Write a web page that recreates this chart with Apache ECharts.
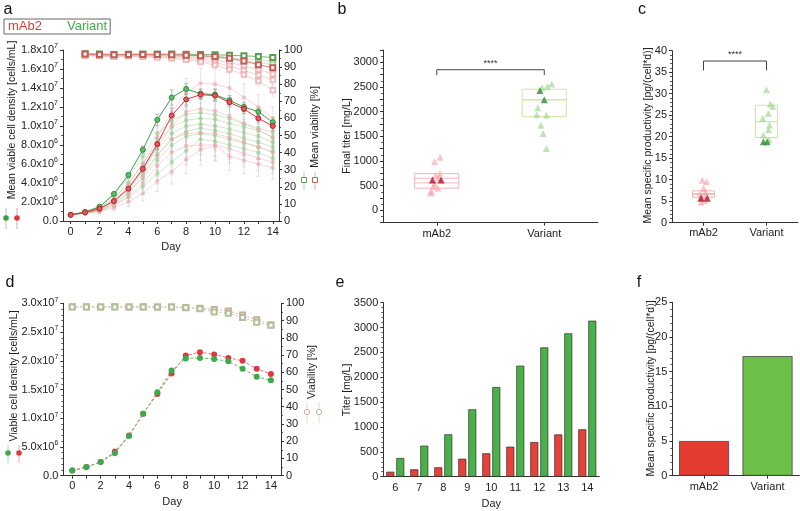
<!DOCTYPE html>
<html><head><meta charset="utf-8">
<script src="https://cdn.jsdelivr.net/npm/echarts@6/dist/echarts.min.js"></script>
<style>html,body{margin:0;padding:0;background:#fff}#c{width:800px;height:511px}</style>
</head><body><div id="c"></div>
<script>
// ---------- data ----------
const days = [0,1,2,3,4,5,6,7,8,9,10,11,12,13,14];
const evenDays = [0,2,4,6,8,10,12,14];
const viaDays = [1,2,3,4,5,6,7,8,9,10,11,12,13,14];
// panel a: viable cell density (millions cells/mL)
const vcdVarMean = [0.65,0.95,1.5,2.85,4.85,7.5,10.65,13.0,13.9,13.4,13.3,12.7,12.0,11.5,10.4];
const vcdMabMean = [0.65,0.9,1.3,2.1,3.4,5.5,8.1,11.1,12.8,13.3,13.2,12.5,11.8,10.8,10.0];
const vcdMeanSd  = [0.05,0.05,0.1,0.15,0.2,0.4,0.6,0.8,0.6,0.5,0.6,0.5,0.5,0.4,0.5];
const vcdVarF1 = [0.65,0.95,1.5,2.7,4.6,6.8,9.2,10.6,11.2,11.4,11.2,10.8,10.2,9.8,9.3];
const vcdVarF2 = [0.65,0.9,1.4,2.4,4.0,6.0,8.3,9.9,10.6,10.8,10.7,10.3,9.9,9.5,8.8];
const vcdVarF3 = [0.65,0.9,1.3,2.2,3.6,5.5,7.6,9.2,10.0,10.2,10.0,9.7,9.3,8.9,8.3];
const vcdVarF4 = [0.65,0.85,1.2,2.0,3.3,5.0,7.0,8.6,9.4,9.8,9.5,9.2,8.7,8.3,7.8];
const vcdVarF5 = [0.65,0.85,1.1,1.8,2.9,4.5,6.4,8.0,8.9,9.2,9.0,8.6,8.2,7.8,7.3];
const vcdVarF6 = [0.65,0.8,1.0,1.6,2.5,3.6,5.0,6.2,7.4,8.6,8.4,8.0,7.6,7.2,6.6];
const vcdMabF1 = [0.65,0.95,1.4,2.4,3.9,6.0,8.8,11.5,13.5,14.5,14.4,14.0,13.0,12.0,10.8];
const vcdMabF2 = [0.65,0.9,1.3,2.1,3.4,5.3,7.8,10.0,11.5,11.8,11.6,11.0,10.3,9.6,8.8];
const vcdMabF3 = [0.65,0.85,1.2,1.9,3.0,4.7,6.9,8.6,9.2,9.3,9.2,8.8,8.3,7.8,7.2];
const vcdMabF4 = [0.65,0.85,1.1,1.7,2.6,4.0,5.8,7.2,7.9,8.0,8.0,7.6,7.1,6.6,6.2];
const vcdMabF5 = [0.6,0.8,1.0,1.4,2.0,2.9,4.2,5.2,6.5,7.5,7.9,6.8,6.4,6.0,5.6];
const vcdFaintSd = [0.05,0.1,0.15,0.3,0.5,0.8,1.1,1.3,1.5,1.6,1.6,1.5,1.4,1.3,1.2];
// panel a: viability (%), days 1..14
const viaVarMean = [97.8,97.6,97.4,97.5,97.6,97.6,97.6,97.5,97.4,97.2,96.9,96.6,96.2,95.6];
const viaMabMean = [97.6,97.4,97.2,97.4,97.4,97.3,97.2,97.0,96.6,96.2,95.2,93.6,91.4,89.6];
const viaVarF1 = [97.4,97.2,97.0,97.2,97.3,97.2,97.1,96.9,96.6,96.2,95.6,95.0,94.0,93.2];
const viaVarF2 = [97.0,96.8,96.6,96.8,96.9,96.7,96.5,96.2,95.8,95.3,94.5,93.6,92.5,91.5];
const viaMabF1 = [97.2,97.0,96.8,97.0,96.9,96.7,96.4,96.0,95.2,94.2,92.6,90.8,88.6,86.0];
const viaMabF2 = [96.9,96.6,96.4,96.6,96.4,96.1,95.7,95.1,94.1,92.6,90.6,88.0,85.4,82.4];
const viaMabF3 = [96.6,96.3,96.0,96.2,96.0,95.6,95.1,94.3,93.0,91.2,88.6,85.6,81.8,76.5];
const viaSd = [0.3,0.3,0.3,0.3,0.3,0.4,0.5,0.6,0.8,1.0,1.5,2.0,2.8,3.5];
// panel b: final titer (mg/L)
const groups = ['mAb2','Variant'];
const titerMab = [1074,986,752,710,660,551,483,450,382,350];
const titerMabJit = [0.03,-0.02,0.03,-0.01,0.02,-0.02,-0.03,0.01,-0.05,-0.06];
const titerMabDark = [617,617];
const titerMabDarkJit = [-0.04,0.04];
const titerVar = [2563,2509,2483,2080,1940,1926,1724,1557,1255];
const titerVarJit = [0.07,0.03,-0.02,-0.06,-0.07,0.02,-0.03,-0.01,0.02];
const titerVarDark = [2429,2241];
const titerVarDarkJit = [-0.04,0.0];
const titerBox = [[450,557,652,744],[1900,2241,2241,2455]]; // q1, median, mean, q3
const titerTickLabels = [0,500,1000,1500,2000,2500,3000];
const titerSig = [2850,2740];
// panel c: mean specific productivity
const qpMab = [9.9,9.5,8.0,7.2,6.7,6.3,5.9,5.1,4.8];
const qpMabJit = [-0.02,0.05,0.0,0.03,-0.05,0.04,-0.03,0.02,-0.04];
const qpMabDark = [5.7,5.7];
const qpMabDarkJit = [-0.04,0.06];
const qpVar = [30.9,27.6,27.0,25.4,24.3,22.7,21.6,20.4,19.3];
const qpVarJit = [0.0,0.06,0.1,0.03,-0.06,0.05,0.03,-0.05,0.04];
const qpVarDark = [18.8,18.8];
const qpVarDarkJit = [-0.05,0.01];
const qpBox = [[5.9,6.5,6.8,7.4],[19.8,23.5,23.5,27.3]];
const qpSig = [37.6,35.4];
// panel d
const vcdDMab = [0.9,1.5,2.4,4.2,7.0,10.8,14.2,17.8,20.9,21.5,21.1,20.5,20.0,18.6,17.7];
const vcdDVar = [0.9,1.5,2.4,3.9,6.9,10.8,14.5,18.3,20.4,20.5,20.3,19.9,18.6,17.2,16.6];
const viaDMab = [98.0,98.0,97.9,98.0,97.9,98.0,97.9,97.9,97.6,97.2,96.4,95.5,93.2,90.5,87.6];
const viaDVar = [97.9,97.9,97.8,97.9,97.8,97.9,97.8,97.8,97.4,96.9,95.0,94.2,91.8,89.0,87.3];
// panel e
const titerDays = ['6','7','8','9','10','11','12','13','14'];
const titerDayMab = [100,148,189,362,470,604,698,850,953];
const titerDayVar = [376,624,853,1355,1804,2233,2602,2884,3138];
// panel f
const qpPooled = [5.0,17.25];

// ---------- style ----------
const FF = 'Liberation Sans, Arial, sans-serif';
const TXT = '#222', AX = '#333';
const RED = '#d9363e', GREEN = '#3a9f4a';
const plain = v => String(v);
function ax(o){
  const base = {
    axisLine:{show:true,onZero:false,lineStyle:{color:AX,width:1}},
    axisTick:{show:true,inside:false,length:3,lineStyle:{color:AX,width:1}},
    minorTick:{show:false,length:2,lineStyle:{color:AX,width:0.8}},
    axisLabel:{color:TXT,fontSize:11,fontFamily:FF,margin:5,formatter:plain},
    splitLine:{show:false},
    nameTextStyle:{color:TXT,fontSize:11,fontFamily:FF}
  };
  for (const k in o){
    if (base[k] && typeof base[k]==='object' && o[k] && typeof o[k]==='object' && !Array.isArray(o[k])) base[k] = Object.assign({}, base[k], o[k]);
    else base[k] = o[k];
  }
  return base;
}
const sci = v => {
  if (v === 0) return '{n|0.0}';
  const val = v*1e6; const e = Math.floor(Math.log10(val)+1e-9);
  return '{n|'+(val/Math.pow(10,e)).toFixed(1)+'x10}{s|'+e+'}';
};
const sciRich = {n:{fontSize:11,color:TXT,fontFamily:FF},s:{fontSize:7,color:TXT,fontFamily:FF,padding:[0,0,7,0]}};

function errItem(color){
  return (params, api) => {
    const x = api.value(0), lo = api.value(1), hi = api.value(2);
    const a = api.coord([x,lo]), b = api.coord([x,hi]);
    const st = {stroke:color,lineWidth:0.8};
    return {type:'group',children:[
      {type:'line',shape:{x1:a[0],y1:a[1],x2:b[0],y2:b[1]},style:st},
      {type:'line',shape:{x1:a[0]-2,y1:a[1],x2:a[0]+2,y2:a[1]},style:st},
      {type:'line',shape:{x1:b[0]-2,y1:b[1],x2:b[0]+2,y2:b[1]},style:st}]};
  };
}
function boxItem(colors, ratio){
  return (params, api) => {
    const i = api.value(0);
    const q1 = api.coord([i, api.value(1)]), md = api.coord([i, api.value(2)]);
    const mn = api.coord([i, api.value(3)]), q3 = api.coord([i, api.value(4)]);
    const w = api.size([ratio,0])[0];
    const st = {stroke:colors[params.dataIndex],lineWidth:1,fill:null};
    return {type:'group',children:[
      {type:'rect',shape:{x:q3[0]-w/2,y:q3[1],width:w,height:q1[1]-q3[1]},style:{stroke:colors[params.dataIndex],lineWidth:1,fill:'rgba(0,0,0,0)'}},
      {type:'line',shape:{x1:q3[0]-w/2,y1:md[1],x2:q3[0]+w/2,y2:md[1]},style:st},
      {type:'line',shape:{x1:q3[0]-w/2,y1:mn[1],x2:q3[0]+w/2,y2:mn[1]},style:st}]};
  };
}
function sigItem(params, api){
  const top = api.value(2), bot = api.value(3);
  const a0 = api.coord([api.value(0), bot]), a1 = api.coord([api.value(0), top]);
  const b1 = api.coord([api.value(1), top]), b0 = api.coord([api.value(1), bot]);
  return {type:'group',children:[
    {type:'polyline',shape:{points:[a0,a1,b1,b0]},style:{stroke:'#444',lineWidth:1,fill:null}},
    {type:'text',x:(a1[0]+b1[0])/2,y:a1[1]-2,style:{text:'****',fontSize:9,fontFamily:FF,fill:'#333',align:'center',verticalAlign:'bottom'}}]};
}

const series = [];
const pair = (xs, ys) => xs.map((x,i)=>[x, ys[i]]);
const errData = (xs, ys, sd) => xs.map((x,i)=>[x, ys[i]-sd[i], ys[i]+sd[i]]);

// ---- panel a ----
const faintG = [vcdVarF1,vcdVarF2,vcdVarF3,vcdVarF4,vcdVarF5,vcdVarF6];
const faintR = [vcdMabF1,vcdMabF2,vcdMabF3,vcdMabF4,vcdMabF5];
let errRows = [];
faintG.concat(faintR).forEach(a => { errRows = errRows.concat(errData(days, a, vcdFaintSd)); });
series.push({type:'custom',xAxisIndex:0,yAxisIndex:0,renderItem:errItem('rgba(190,190,190,0.5)'),data:errRows,silent:true,z:1});
let viaErr = [];
[viaMabF1,viaMabF2,viaMabF3].forEach(a => { viaErr = viaErr.concat(errData(viaDays, a, viaSd)); });
series.push({type:'custom',xAxisIndex:0,yAxisIndex:1,renderItem:errItem('rgba(200,200,200,0.5)'),data:viaErr,silent:true,z:1});
faintG.forEach(a => series.push({type:'line',xAxisIndex:0,yAxisIndex:0,data:pair(days,a),symbol:'circle',symbolSize:4.5,
  lineStyle:{color:'rgba(140,200,130,0.4)',width:1},itemStyle:{color:'rgba(150,205,140,0.55)'},silent:true,z:2}));
faintR.forEach(a => series.push({type:'line',xAxisIndex:0,yAxisIndex:0,data:pair(days,a),symbol:'circle',symbolSize:4.5,
  lineStyle:{color:'rgba(240,150,160,0.4)',width:1},itemStyle:{color:'rgba(240,165,170,0.55)'},silent:true,z:2}));
[viaVarF1,viaVarF2].forEach(a => series.push({type:'line',xAxisIndex:0,yAxisIndex:1,data:pair(viaDays,a),symbol:'emptyRect',symbolSize:4.5,
  lineStyle:{color:'rgba(150,200,130,0.45)',width:1},itemStyle:{color:'rgba(140,190,120,0.6)'},silent:true,z:2}));
[viaMabF1,viaMabF2,viaMabF3].forEach(a => series.push({type:'line',xAxisIndex:0,yAxisIndex:1,data:pair(viaDays,a),symbol:'emptyRect',symbolSize:4.5,
  lineStyle:{color:'rgba(235,160,160,0.45)',width:1},itemStyle:{color:'rgba(230,150,150,0.6)'},silent:true,z:2}));
series.push({type:'custom',xAxisIndex:0,yAxisIndex:0,renderItem:errItem('#aaa'),data:errData(days,vcdVarMean,vcdMeanSd).concat(errData(days,vcdMabMean,vcdMeanSd)),silent:true,z:3});
series.push({type:'line',name:'Variant',xAxisIndex:0,yAxisIndex:1,data:pair(viaDays,viaVarMean),symbol:'emptyRect',symbolSize:5,
  lineStyle:{color:'#7bb56e',width:1},itemStyle:{color:'#5a9e50'},z:4});
series.push({type:'line',name:'mAb2',xAxisIndex:0,yAxisIndex:1,data:pair(viaDays,viaMabMean),symbol:'emptyRect',symbolSize:5,
  lineStyle:{color:'#d98080',width:1},itemStyle:{color:'#c85a5a'},z:4});
series.push({type:'line',name:'Variant',xAxisIndex:0,yAxisIndex:0,data:pair(days,vcdVarMean),symbol:'circle',symbolSize:5,
  lineStyle:{color:GREEN,width:1},itemStyle:{color:'#62bd66',borderColor:'#2d8a3c',borderWidth:1},z:5});
series.push({type:'line',name:'mAb2',xAxisIndex:0,yAxisIndex:0,data:pair(days,vcdMabMean),symbol:'circle',symbolSize:5,
  lineStyle:{color:RED,width:1},itemStyle:{color:'#e5575c',borderColor:'#b3222b',borderWidth:1},z:5});

// ---- panel b / c ----
function dotPanel(xi, yi, box, ratio, mab, mabJ, mabD, mabDJ, vr, vrJ, vrD, vrDJ, sig){
  series.push({type:'custom',xAxisIndex:xi,yAxisIndex:yi,renderItem:boxItem(['#f2b4b8','#d2e2a8'],ratio),
    data:box.map((b,i)=>[i,b[0],b[1],b[2],b[3]]),silent:true,z:2});
  series.push({type:'scatter',xAxisIndex:xi,yAxisIndex:yi,symbol:'triangle',symbolSize:7,
    data:mab.map((v,i)=>[0+mabJ[i],v]),itemStyle:{color:'rgba(244,160,165,0.75)'},z:3});
  series.push({type:'scatter',xAxisIndex:xi,yAxisIndex:yi,symbol:'triangle',symbolSize:7,
    data:vr.map((v,i)=>[1+vrJ[i],v]),itemStyle:{color:'rgba(160,212,140,0.8)'},z:3});
  series.push({type:'scatter',xAxisIndex:xi,yAxisIndex:yi,symbol:'triangle',symbolSize:7,
    data:mabD.map((v,i)=>[0+mabDJ[i],v]),itemStyle:{color:'#a8152c'},z:4});
  series.push({type:'scatter',xAxisIndex:xi,yAxisIndex:yi,symbol:'triangle',symbolSize:7,
    data:vrD.map((v,i)=>[1+vrDJ[i],v]),itemStyle:{color:'#2f8f35'},z:4});
  series.push({type:'custom',xAxisIndex:xi,yAxisIndex:yi,renderItem:sigItem,data:[[0,1,sig[0],sig[1]]],silent:true,z:3});
}
dotPanel(2,2,titerBox,0.41,titerMab,titerMabJit,titerMabDark,titerMabDarkJit,titerVar,titerVarJit,titerVarDark,titerVarDarkJit,titerSig);
dotPanel(4,3,qpBox,0.35,qpMab,qpMabJit,qpMabDark,qpMabDarkJit,qpVar,qpVarJit,qpVarDark,qpVarDarkJit,qpSig);

// ---- panel d ----
series.push({type:'line',xAxisIndex:5,yAxisIndex:5,data:pair(days,viaDMab),symbol:'emptyRect',symbolSize:5,
  lineStyle:{color:'#d8b8a0',width:1,type:[2,2]},itemStyle:{color:'#c9ad98'},z:2});
series.push({type:'line',xAxisIndex:5,yAxisIndex:5,data:pair(days,viaDVar),symbol:'emptyRect',symbolSize:5,
  lineStyle:{color:'#bcc8a8',width:1,type:[2,2]},itemStyle:{color:'#b2bf9c'},z:2});
series.push({type:'line',xAxisIndex:5,yAxisIndex:4,data:pair(days,vcdDMab),symbol:'circle',symbolSize:6,
  lineStyle:{color:'#e07070',width:1,type:[3,2]},itemStyle:{color:'#dd3a40'},z:3});
series.push({type:'line',xAxisIndex:5,yAxisIndex:4,data:pair(days,vcdDVar),symbol:'circle',symbolSize:6,
  lineStyle:{color:'#6cb86c',width:1,type:[3,2]},itemStyle:{color:'#3da94a'},z:4});

// ---- panel e ----
series.push({type:'bar',xAxisIndex:6,yAxisIndex:6,data:titerDayMab,barWidth:8,barGap:'25%',
  itemStyle:{color:'#e8403a',borderColor:'#3a2a2a',borderWidth:0.7}});
series.push({type:'bar',xAxisIndex:6,yAxisIndex:6,data:titerDayVar,barWidth:8,barGap:'25%',
  itemStyle:{color:'#4cb04a',borderColor:'#2a3a2a',borderWidth:0.7}});
// ---- panel f ----
series.push({type:'bar',xAxisIndex:7,yAxisIndex:7,barWidth:50,
  data:[{value:qpPooled[0],itemStyle:{color:'#e53a2f'}},{value:qpPooled[1],itemStyle:{color:'#6cbf48'}}],
  itemStyle:{borderColor:'#444',borderWidth:0.8}});

// ---------- axes ----------
const grid = [
  {left:63,top:50,width:216,height:171},
  {left:383,top:50,width:215,height:172.7},
  {left:672,top:50.7,width:126,height:172},
  {left:63.3,top:303.3,width:217.7,height:172.4},
  {left:383.3,top:302.7,width:216,height:174},
  {left:672.3,top:302.3,width:127,height:173.4}
];
const xAxis = [
  ax({gridIndex:0,type:'value',min:-0.53,max:14.43,name:'Day',nameLocation:'middle',nameGap:20,
      axisLabel:{customValues:evenDays},axisTick:{customValues:days}}),
  ax({gridIndex:1,type:'category',data:groups,axisTick:{alignWithLabel:true},axisLabel:{margin:6}}),
  {gridIndex:1,type:'value',min:-0.5,max:1.5,show:false},
  ax({gridIndex:2,type:'category',data:groups,axisTick:{alignWithLabel:true},axisLabel:{margin:5}}),
  {gridIndex:2,type:'value',min:-0.5,max:1.5,show:false},
  ax({gridIndex:3,type:'value',min:-0.63,max:14.71,name:'Day',nameLocation:'middle',nameGap:21,
      axisLabel:{customValues:evenDays},axisTick:{customValues:days}}),
  ax({gridIndex:4,type:'category',data:titerDays,name:'Day',nameLocation:'middle',nameGap:22,axisTick:{show:false},axisLabel:{margin:6}}),
  ax({gridIndex:5,type:'category',data:groups,axisTick:{alignWithLabel:true},axisLabel:{margin:6}})
];
const yAxis = [
  ax({gridIndex:0,type:'value',min:0,max:18,interval:2,axisLabel:{formatter:sci,rich:sciRich},minorTick:{show:true,splitNumber:2}}),
  ax({gridIndex:0,type:'value',position:'right',min:0,max:100,interval:10,minorTick:{show:true,splitNumber:2}}),
  ax({gridIndex:1,type:'value',min:-250,max:3250,interval:250,axisLabel:{customValues:titerTickLabels},minorTick:{show:true,splitNumber:2}}),
  ax({gridIndex:2,type:'value',min:0,max:40,interval:5,minorTick:{show:true,splitNumber:5}}),
  ax({gridIndex:3,type:'value',min:0,max:30,interval:5,axisLabel:{formatter:sci,rich:sciRich},minorTick:{show:true,splitNumber:5}}),
  ax({gridIndex:3,type:'value',position:'right',min:0,max:100,interval:10,minorTick:{show:true,splitNumber:2}}),
  ax({gridIndex:4,type:'value',min:0,max:3500,interval:500,minorTick:{show:true,splitNumber:5}}),
  ax({gridIndex:5,type:'value',min:0,max:25,interval:5,minorTick:{show:true,splitNumber:5}})
];

// ---------- decorations ----------
const rtxt = (t,x,y) => ({type:'text',x:x,y:y,rotation:Math.PI/2,style:{text:t,align:'center',verticalAlign:'middle',fontSize:10.5,fontFamily:FF,fill:TXT}});
const letter = (t,x,y) => ({type:'text',x:x,y:y,style:{text:t,align:'center',verticalAlign:'middle',fontSize:16,fontFamily:FF,fill:'#111'}});
const glyph = (x,y,sym,color,y1,y2) => [
  {type:'line',shape:{x1:x,y1:y1,x2:x,y2:y2},style:{stroke:color,lineWidth:0.8,opacity:0.6}},
  sym==='c' ? {type:'circle',shape:{cx:x,cy:y,r:2.8},style:{fill:color}} :
  sym==='oc' ? {type:'circle',shape:{cx:x,cy:y,r:2.6},style:{fill:'#fff',stroke:color,lineWidth:1}} :
  {type:'rect',shape:{x:x-2.5,y:y-2.5,width:5,height:5},style:{fill:'#fff',stroke:color,lineWidth:1}}
];
const graphic = [
  letter('a',8,10), letter('b',342,10), letter('c',642,10), letter('d',10,283), letter('e',340,283), letter('f',639,283),
  rtxt('Mean viable cell density [cells/mL]',12,120),
  rtxt('Mean viability [%]',315,127),
  rtxt('Final titer [mg/L]',347,136),
  rtxt('Mean specific productivity [pg/(cell*d)]',648.5,135.5),
  rtxt('Viable cell density [cells/mL]',14,376),
  rtxt('Viability [%]',312,372),
  rtxt('Titer [mg/L]',347,390),
  rtxt('Mean specific productivity [pg/(cell*d)]',651,388.5),
  ...glyph(6,218,'c','#3c9e47',208,229), ...glyph(17,218,'c','#d9363e',208,229),
  ...glyph(304,180,'r','#5a9e50',172,190), ...glyph(315,180,'r','#c85a5a',172,190),
  ...glyph(8,453,'c','#3da94a',445,463), ...glyph(19,453,'c','#dd3a40',445,463),
  ...glyph(307,412,'oc','#d8a890',402,423), ...glyph(319,412,'oc','#a8c0a0',402,423)
];

const chart = echarts.init(document.getElementById('c'), null, {renderer:'canvas'});
chart.setOption({
  animation:false,
  backgroundColor:'#fff',
  textStyle:{fontFamily:FF},
  legend:{left:4,top:19,padding:[1,3,1,3],itemGap:24,itemWidth:0,itemHeight:0,borderColor:'#666',borderWidth:1,
    textStyle:{fontSize:13,fontFamily:FF,padding:[0,0,0,-4]},selectedMode:false,
    data:[{name:'mAb2',icon:'rect',textStyle:{color:'#e03c3c'}},{name:'Variant',icon:'rect',textStyle:{color:'#3fae4a'}}]},
  grid, xAxis, yAxis, series, graphic
});
</script></body></html>
